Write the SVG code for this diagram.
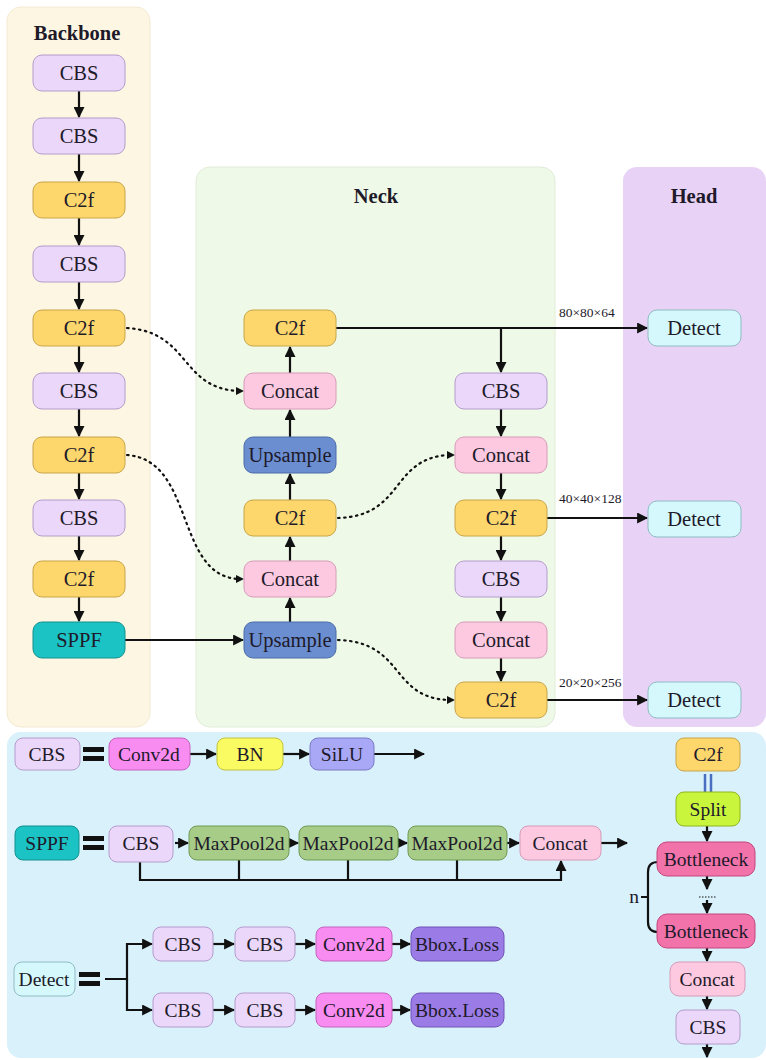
<svg xmlns="http://www.w3.org/2000/svg" width="766" height="1060" viewBox="0 0 766 1060" font-family="'Liberation Serif', serif">
<style>
text{font-family:"Liberation Serif","DejaVu Serif",serif;fill:#1e1a2a;text-anchor:middle;dominant-baseline:central}
.t{font-size:20.5px}
.s{font-size:19.5px}
.h{font-size:20.5px;font-weight:bold}
.lab{font-size:13.5px;text-anchor:start}
.n rect{stroke-width:1}
.cbs{fill:#ead7f9;stroke:#b49ccc}
.c2f{fill:#fdd76c;stroke:#c8a54a}
.cat{fill:#fcc9e1;stroke:#d69bb8}
.up{fill:#6b8ed1;stroke:#4c6ca8}
.sppf{fill:#1cc3c4;stroke:#13908f}
.det{fill:#d4f8fb;stroke:#8fbcc4}
.conv{fill:#f98cf1;stroke:#c265bc}
.bn{fill:#fafa62;stroke:#c2c240}
.silu{fill:#a9a8f6;stroke:#7b7ac4}
.mp{fill:#a6cc88;stroke:#6f9a55}
.bb{fill:#9b7ce6;stroke:#6f52b6}
.split{fill:#c9f53c;stroke:#8fb520}
.bot{fill:#f272aa;stroke:#c2467e}
.ln{stroke:#111;stroke-width:2.2;fill:none}
.dot{stroke:#111;stroke-width:2.2;fill:none;stroke-dasharray:1.5 4.5;stroke-linecap:round}
</style>
<defs>
<marker id="a" viewBox="0 0 10 10" refX="9" refY="5" markerWidth="5" markerHeight="5" orient="auto" markerUnits="strokeWidth">
<path d="M0,0 L10,5 L0,10 z" fill="#111"/>
</marker>
</defs>

<g id="panels">
<rect x="7" y="7" width="143" height="720" rx="14" fill="#fdf6e2" stroke="#f3ead2"/>
<rect x="196" y="167" width="359" height="560" rx="14" fill="#eff9e8" stroke="#e0ecd8"/>
<rect x="623" y="167" width="143" height="560" rx="14" fill="#e8d3f6"/>
<rect x="7" y="732" width="759" height="326" rx="14" fill="#d9f1fb"/>
<text class="h" x="77" y="33">Backbone</text>
<text class="h" x="376" y="196">Neck</text>
<text class="h" x="694" y="196">Head</text>
</g>

<g id="connectors">
<line class="ln" x1="79" y1="91" x2="79" y2="117" marker-end="url(#a)"/>
<line class="ln" x1="79" y1="154" x2="79" y2="181" marker-end="url(#a)"/>
<line class="ln" x1="79" y1="218" x2="79" y2="245" marker-end="url(#a)"/>
<line class="ln" x1="79" y1="282" x2="79" y2="309" marker-end="url(#a)"/>
<line class="ln" x1="79" y1="346" x2="79" y2="372" marker-end="url(#a)"/>
<line class="ln" x1="79" y1="409" x2="79" y2="436" marker-end="url(#a)"/>
<line class="ln" x1="79" y1="473" x2="79" y2="499" marker-end="url(#a)"/>
<line class="ln" x1="79" y1="536" x2="79" y2="560" marker-end="url(#a)"/>
<line class="ln" x1="79" y1="597" x2="79" y2="621" marker-end="url(#a)"/>
<line class="ln" x1="125" y1="640" x2="243" y2="640" marker-end="url(#a)"/>
<path class="dot" d="M127,328 C190,332 180,388 238,391"/>
<path d="M236,387 L244,391 L236,395 z" fill="#111"/>
<path class="dot" d="M127,455 C195,460 175,575 238,579"/>
<path d="M236,575 L244,579 L236,583 z" fill="#111"/>
<path class="dot" d="M338,518 C405,516 390,458 449,455"/>
<path d="M447,451 L455,455 L447,459 z" fill="#111"/>
<path class="dot" d="M338,640 C405,642 390,698 449,700"/>
<path d="M447,696 L455,700 L447,704 z" fill="#111"/>
<line class="ln" x1="290" y1="622" x2="290" y2="598" marker-end="url(#a)"/>
<line class="ln" x1="290" y1="561" x2="290" y2="537" marker-end="url(#a)"/>
<line class="ln" x1="290" y1="500" x2="290" y2="474" marker-end="url(#a)"/>
<line class="ln" x1="290" y1="437" x2="290" y2="410" marker-end="url(#a)"/>
<line class="ln" x1="290" y1="373" x2="290" y2="347" marker-end="url(#a)"/>
<line class="ln" x1="336" y1="328" x2="647" y2="328" marker-end="url(#a)"/>
<line class="ln" x1="501" y1="328" x2="501" y2="372" marker-end="url(#a)"/>
<line class="ln" x1="501" y1="409" x2="501" y2="436" marker-end="url(#a)"/>
<line class="ln" x1="501" y1="473" x2="501" y2="499" marker-end="url(#a)"/>
<line class="ln" x1="501" y1="536" x2="501" y2="560" marker-end="url(#a)"/>
<line class="ln" x1="501" y1="597" x2="501" y2="621" marker-end="url(#a)"/>
<line class="ln" x1="501" y1="658" x2="501" y2="681" marker-end="url(#a)"/>
<line class="ln" x1="547" y1="518" x2="647" y2="518" marker-end="url(#a)"/>
<line class="ln" x1="547" y1="700" x2="647" y2="700" marker-end="url(#a)"/>
<line class="ln" x1="190" y1="754" x2="216" y2="754" marker-end="url(#a)"/>
<line class="ln" x1="283" y1="754" x2="309" y2="754" marker-end="url(#a)"/>
<line class="ln" x1="374" y1="754" x2="424" y2="754" marker-end="url(#a)"/>
<line class="ln" x1="175" y1="843" x2="188" y2="843" marker-end="url(#a)"/>
<line class="ln" x1="289" y1="843" x2="298" y2="843" marker-end="url(#a)"/>
<line class="ln" x1="398" y1="843" x2="407" y2="843" marker-end="url(#a)"/>
<line class="ln" x1="507" y1="843" x2="519" y2="843" marker-end="url(#a)"/>
<line class="ln" x1="601" y1="843" x2="627" y2="843" marker-end="url(#a)"/>
<path class="ln" d="M140,862 V880 H561 V861" marker-end="url(#a)"/>
<line class="ln" x1="239" y1="860" x2="239" y2="880"/>
<line class="ln" x1="348" y1="860" x2="348" y2="880"/>
<line class="ln" x1="457" y1="860" x2="457" y2="880"/>
<path class="ln" d="M105,979 H127 V944 H152" marker-end="url(#a)"/>
<path class="ln" d="M127,979 V1010 H152" marker-end="url(#a)"/>
<line class="ln" x1="213" y1="944" x2="234" y2="944" marker-end="url(#a)"/>
<line class="ln" x1="295" y1="944" x2="315" y2="944" marker-end="url(#a)"/>
<line class="ln" x1="392" y1="944" x2="410" y2="944" marker-end="url(#a)"/>
<line class="ln" x1="213" y1="1010" x2="234" y2="1010" marker-end="url(#a)"/>
<line class="ln" x1="295" y1="1010" x2="315" y2="1010" marker-end="url(#a)"/>
<line class="ln" x1="392" y1="1010" x2="410" y2="1010" marker-end="url(#a)"/>
<line x1="705" y1="774" x2="705" y2="792" stroke="#4a6fc0" stroke-width="2.5"/>
<line x1="711" y1="774" x2="711" y2="792" stroke="#4a6fc0" stroke-width="2.5"/>
<line class="ln" x1="707" y1="826" x2="707" y2="841" marker-end="url(#a)" stroke-width="1.8"/>
<line class="ln" x1="707" y1="876" x2="707" y2="889" marker-end="url(#a)" stroke-width="1.8"/>
<line x1="699" y1="897" x2="717" y2="897" stroke="#111" stroke-width="1.2" stroke-dasharray="1.5 1.5"/>
<line class="ln" x1="707" y1="900" x2="707" y2="913" marker-end="url(#a)" stroke-width="1.8"/>
<line class="ln" x1="707" y1="947" x2="707" y2="961" marker-end="url(#a)" stroke-width="1.8"/>
<line class="ln" x1="707" y1="996" x2="707" y2="1009" marker-end="url(#a)" stroke-width="1.8"/>
<line class="ln" x1="707" y1="1044" x2="707" y2="1057" marker-end="url(#a)" stroke-width="1.8"/>
<path class="ln" stroke-width="1.8" d="M658,862 Q648,862 648,872 V922 Q648,932 658,932 M648,897 H641"/>
</g>

<g id="eq">
<rect x="83" y="747" width="21" height="5" fill="#111"/><rect x="83" y="756" width="21" height="5" fill="#111"/>
<rect x="83" y="836" width="21" height="5" fill="#111"/><rect x="83" y="845" width="21" height="5" fill="#111"/>
<rect x="79" y="972" width="21" height="5" fill="#111"/><rect x="79" y="981" width="21" height="5" fill="#111"/>
</g>

<g id="b1" class="n"><rect class="cbs" x="33" y="55" width="92" height="36" rx="9"/><text class="t" x="79" y="73">CBS</text></g>
<g id="b2" class="n"><rect class="cbs" x="33" y="118" width="92" height="36" rx="9"/><text class="t" x="79" y="136">CBS</text></g>
<g id="b3" class="n"><rect class="c2f" x="33" y="182" width="92" height="36" rx="9"/><text class="t" x="79" y="200">C2f</text></g>
<g id="b4" class="n"><rect class="cbs" x="33" y="246" width="92" height="36" rx="9"/><text class="t" x="79" y="264">CBS</text></g>
<g id="b5" class="n"><rect class="c2f" x="33" y="310" width="92" height="36" rx="9"/><text class="t" x="79" y="328">C2f</text></g>
<g id="b6" class="n"><rect class="cbs" x="33" y="373" width="92" height="36" rx="9"/><text class="t" x="79" y="391">CBS</text></g>
<g id="b7" class="n"><rect class="c2f" x="33" y="437" width="92" height="36" rx="9"/><text class="t" x="79" y="455">C2f</text></g>
<g id="b8" class="n"><rect class="cbs" x="33" y="500" width="92" height="36" rx="9"/><text class="t" x="79" y="518">CBS</text></g>
<g id="b9" class="n"><rect class="c2f" x="33" y="561" width="92" height="36" rx="9"/><text class="t" x="79" y="579">C2f</text></g>
<g id="b10" class="n"><rect class="sppf" x="33" y="622" width="92" height="36" rx="9"/><text class="t" x="79" y="640">SPPF</text></g>

<g id="n1" class="n"><rect class="c2f" x="244" y="310" width="92" height="36" rx="9"/><text class="t" x="290" y="328">C2f</text></g>
<g id="n2" class="n"><rect class="cat" x="244" y="373" width="92" height="36" rx="9"/><text class="t" x="290" y="391">Concat</text></g>
<g id="n3" class="n"><rect class="up" x="244" y="437" width="92" height="36" rx="9"/><text class="t" x="290" y="455">Upsample</text></g>
<g id="n4" class="n"><rect class="c2f" x="244" y="500" width="92" height="36" rx="9"/><text class="t" x="290" y="518">C2f</text></g>
<g id="n5" class="n"><rect class="cat" x="244" y="561" width="92" height="36" rx="9"/><text class="t" x="290" y="579">Concat</text></g>
<g id="n6" class="n"><rect class="up" x="244" y="622" width="92" height="36" rx="9"/><text class="t" x="290" y="640">Upsample</text></g>
<g id="n7" class="n"><rect class="cbs" x="455" y="373" width="92" height="36" rx="9"/><text class="t" x="501" y="391">CBS</text></g>
<g id="n8" class="n"><rect class="cat" x="455" y="437" width="92" height="36" rx="9"/><text class="t" x="501" y="455">Concat</text></g>
<g id="n9" class="n"><rect class="c2f" x="455" y="500" width="92" height="36" rx="9"/><text class="t" x="501" y="518">C2f</text></g>
<g id="n10" class="n"><rect class="cbs" x="455" y="561" width="92" height="36" rx="9"/><text class="t" x="501" y="579">CBS</text></g>
<g id="n11" class="n"><rect class="cat" x="455" y="622" width="92" height="36" rx="9"/><text class="t" x="501" y="640">Concat</text></g>
<g id="n12" class="n"><rect class="c2f" x="455" y="682" width="92" height="36" rx="9"/><text class="t" x="501" y="700">C2f</text></g>

<g id="h1" class="n"><rect class="det" x="648" y="310" width="93" height="36" rx="9"/><text class="t" x="694" y="328">Detect</text></g>
<g id="h2" class="n"><rect class="det" x="648" y="501" width="93" height="36" rx="9"/><text class="t" x="694" y="519">Detect</text></g>
<g id="h3" class="n"><rect class="det" x="648" y="682" width="93" height="36" rx="9"/><text class="t" x="694" y="700">Detect</text></g>
<g id="labels">
<text class="lab" x="559" y="312">80×80×64</text>
<text class="lab" x="559" y="498">40×40×128</text>
<text class="lab" x="559" y="682">20×20×256</text>
</g>

<g id="l_cbs" class="n"><rect class="cbs" x="15" y="738" width="65" height="32" rx="8"/><text class="s" x="47" y="754">CBS</text></g>
<g id="l_conv" class="n"><rect class="conv" x="109" y="738" width="81" height="32" rx="8"/><text class="s" x="149" y="754">Conv2d</text></g>
<g id="l_bn" class="n"><rect class="bn" x="217" y="738" width="66" height="32" rx="8"/><text class="s" x="250" y="754">BN</text></g>
<g id="l_silu" class="n"><rect class="silu" x="310" y="738" width="64" height="32" rx="8"/><text class="s" x="342" y="754">SiLU</text></g>

<g id="l_sppf" class="n"><rect class="sppf" x="15" y="826" width="64" height="34" rx="8"/><text class="s" x="47" y="843">SPPF</text></g>
<g id="l_cbs2" class="n"><rect class="cbs" x="109" y="826" width="64" height="36" rx="8"/><text class="s" x="141" y="843">CBS</text></g>
<g id="l_mp1" class="n"><rect class="mp" x="189" y="826" width="100" height="34" rx="8"/><text class="s" x="239" y="843">MaxPool2d</text></g>
<g id="l_mp2" class="n"><rect class="mp" x="299" y="826" width="99" height="34" rx="8"/><text class="s" x="348" y="843">MaxPool2d</text></g>
<g id="l_mp3" class="n"><rect class="mp" x="408" y="826" width="99" height="34" rx="8"/><text class="s" x="457" y="843">MaxPool2d</text></g>
<g id="l_cat" class="n"><rect class="cat" x="520" y="826" width="81" height="34" rx="8"/><text class="s" x="560" y="843">Concat</text></g>

<g id="l_det" class="n"><rect class="det" x="14" y="962" width="61" height="34" rx="8"/><text class="s" x="44" y="979">Detect</text></g>
<g id="l_d1" class="n"><rect class="cbs" x="153" y="927" width="60" height="34" rx="8"/><text class="s" x="183" y="944">CBS</text></g>
<g id="l_d2" class="n"><rect class="cbs" x="235" y="927" width="60" height="34" rx="8"/><text class="s" x="265" y="944">CBS</text></g>
<g id="l_d3" class="n"><rect class="conv" x="316" y="927" width="76" height="34" rx="8"/><text class="s" x="354" y="944">Conv2d</text></g>
<g id="l_d4" class="n"><rect class="bb" x="411" y="927" width="93" height="34" rx="9"/><text class="s" x="457" y="944">Bbox.Loss</text></g>
<g id="l_d5" class="n"><rect class="cbs" x="153" y="993" width="60" height="34" rx="8"/><text class="s" x="183" y="1010">CBS</text></g>
<g id="l_d6" class="n"><rect class="cbs" x="235" y="993" width="60" height="34" rx="8"/><text class="s" x="265" y="1010">CBS</text></g>
<g id="l_d7" class="n"><rect class="conv" x="316" y="993" width="76" height="34" rx="8"/><text class="s" x="354" y="1010">Conv2d</text></g>
<g id="l_d8" class="n"><rect class="bb" x="411" y="993" width="93" height="34" rx="9"/><text class="s" x="457" y="1010">Bbox.Loss</text></g>

<g id="l_c2f" class="n"><rect class="c2f" x="676" y="738" width="64" height="33" rx="8"/><text class="s" x="708" y="754">C2f</text></g>
<g id="l_split" class="n"><rect class="split" x="676" y="792" width="64" height="34" rx="8"/><text class="s" x="708" y="809">Split</text></g>
<g id="l_bot1" class="n"><rect class="bot" x="657" y="842" width="98" height="34" rx="10"/><text class="s" x="706" y="859">Bottleneck</text></g>
<g id="l_bot2" class="n"><rect class="bot" x="657" y="914" width="98" height="34" rx="10"/><text class="s" x="706" y="931">Bottleneck</text></g>
<g id="l_cat2" class="n"><rect class="cat" x="670" y="962" width="75" height="34" rx="9"/><text class="s" x="707" y="979">Concat</text></g>
<g id="l_cbs3" class="n"><rect class="cbs" x="676" y="1010" width="64" height="34" rx="8"/><text class="s" x="708" y="1027">CBS</text></g>
<text class="s" x="634" y="896">n</text>
</svg>
